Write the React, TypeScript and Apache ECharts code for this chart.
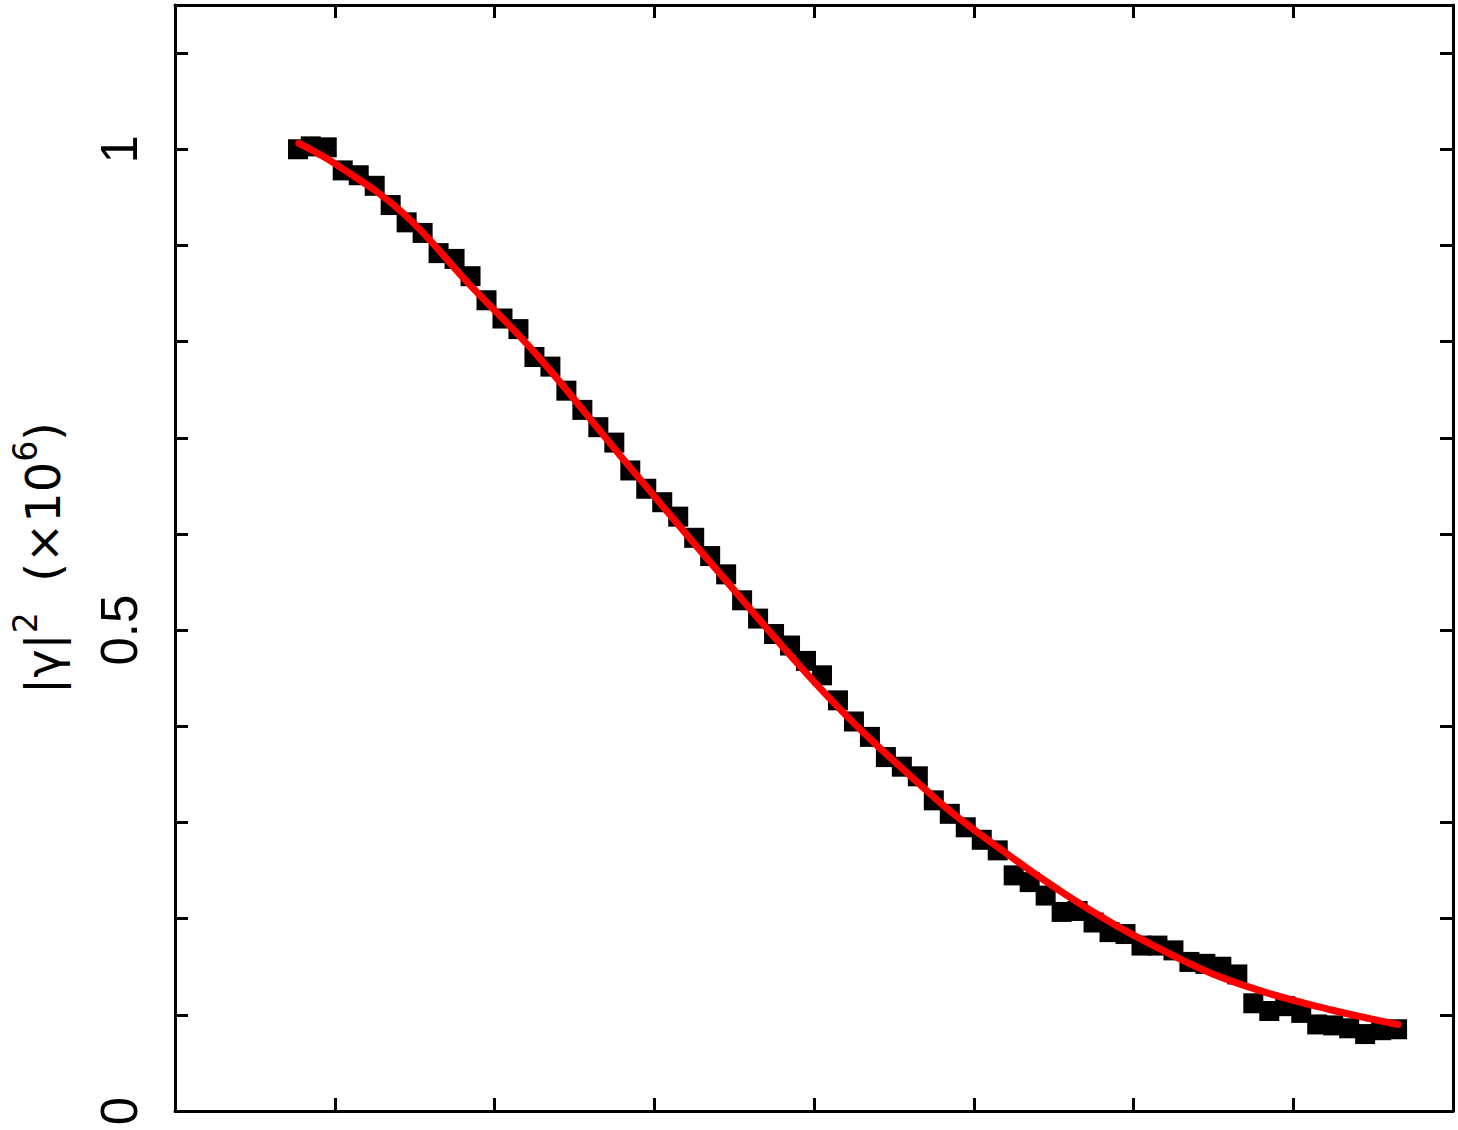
import React, { useEffect, useRef } from "react";
import * as echarts from "echarts";

// measured points (black squares)
const dataX = [
  0.77, 0.85, 0.95, 1.05, 1.15, 1.25, 1.35, 1.45, 1.55, 1.65,
  1.75, 1.85, 1.95, 2.05, 2.15, 2.25, 2.35, 2.45, 2.55, 2.65,
  2.75, 2.85, 2.95, 3.05, 3.15, 3.25, 3.35, 3.45, 3.55, 3.65,
  3.75, 3.85, 3.95, 4.05, 4.15, 4.25, 4.35, 4.45, 4.55, 4.65,
  4.75, 4.85, 4.95, 5.05, 5.15, 5.25, 5.35, 5.45, 5.55, 5.65,
  5.75, 5.85, 5.95, 6.05, 6.15, 6.25, 6.35, 6.45, 6.55, 6.65,
  6.75, 6.85, 6.95, 7.05, 7.15, 7.25, 7.35, 7.45, 7.55, 7.65,
];
const dataY = [
  1.0, 1.003, 1.002, 0.978, 0.973, 0.962, 0.942, 0.924, 0.913, 0.892,
  0.886, 0.868, 0.843, 0.824, 0.813, 0.784, 0.774, 0.749, 0.729, 0.711,
  0.695, 0.666, 0.647, 0.633, 0.618, 0.596, 0.577, 0.558, 0.531, 0.512,
  0.496, 0.484, 0.468, 0.453, 0.427, 0.405, 0.389, 0.368, 0.358, 0.348,
  0.323, 0.309, 0.295, 0.282, 0.271, 0.245, 0.238, 0.224, 0.207, 0.208,
  0.196, 0.186, 0.184, 0.172, 0.172, 0.167, 0.155, 0.153, 0.15, 0.142,
  0.112, 0.104, 0.109, 0.102, 0.09, 0.089, 0.086, 0.08, 0.084, 0.085,
];

// fitted curve (red)
const fitX = [0.775, 1.01, 1.425, 1.84, 2.26, 2.78, 3.41, 4.11, 4.74, 5.03, 5.66, 6.28, 6.72, 7.24, 7.656];
const fitY = [1.006, 0.984, 0.934, 0.86, 0.787, 0.683, 0.559, 0.427, 0.328, 0.289, 0.216, 0.159, 0.129, 0.105, 0.09];

const yLabels: Record<string, string> = { "0": "0", "0.5": "0.5", "1": "1" };

const FONT = "Liberation Sans";
const TFONT = "DejaVu Sans";

export default function App() {
  const ref = useRef<HTMLDivElement>(null);
  useEffect(() => {
    if (!ref.current) return;
    const chart = echarts.init(ref.current, null, { renderer: "svg" });
    const axisLine = { show: true, onZero: false, lineStyle: { color: "#000", width: 3 } };
    const tick = { show: true, inside: true, length: 13, lineStyle: { color: "#000", width: 3 } };
    const fmtY = (v: number) => {
      const key = String(Math.round(v * 1000) / 1000);
      return yLabels[key] ?? "";
    };
    chart.setOption({
      animation: false,
      backgroundColor: "#fff",
      grid: { left: 175, right: 5, top: 5, bottom: 19, containLabel: false, outerBoundsMode: "none" },
      xAxis: [
        {
          type: "value", min: 0, max: 8, interval: 1, position: "bottom",
          axisLine, axisTick: tick, axisLabel: { show: false }, splitLine: { show: false },
        },
        {
          type: "value", min: 0, max: 8, interval: 1, position: "top",
          axisLine, axisTick: tick, axisLabel: { show: false }, splitLine: { show: false },
        },
      ],
      yAxis: [
        {
          type: "value", min: 0, max: 1.15, interval: 0.1, position: "left",
          axisLine, axisTick: tick, splitLine: { show: false },
          axisLabel: {
            show: true, rotate: 90, margin: 30, formatter: fmtY,
            fontFamily: FONT, fontSize: 51, color: "#000",
          },
          name: "{m||γ|}{s|2}{m|  (×10}{s|6}{m|)}",
          nameLocation: "middle",
          nameRotate: 90,
          nameGap: 108,
          nameTextStyle: {
            fontFamily: TFONT, color: "#000",
            rich: {
              m: { fontFamily: TFONT, fontSize: 48, color: "#000", lineHeight: 58, verticalAlign: "bottom" },
              s: { fontFamily: TFONT, fontSize: 33, color: "#000", lineHeight: 58, verticalAlign: "top" },
            },
          },
        },
        {
          type: "value", min: 0, max: 1.15, interval: 0.1, position: "right",
          axisLine, axisTick: tick, axisLabel: { show: false }, splitLine: { show: false },
        },
      ],
      series: [
        {
          type: "scatter",
          symbol: "rect",
          symbolSize: 20,
          itemStyle: { color: "#000", opacity: 1 },
          data: dataX.map((x, i) => [x, dataY[i]]),
          z: 2,
        },
        {
          type: "line",
          showSymbol: false,
          smooth: 0.4,
          lineStyle: { color: "#ff0000", width: 7, cap: "round" },
          data: fitX.map((x, i) => [x, fitY[i]]),
          z: 3,
        },
      ],
    });
    return () => chart.dispose();
  }, []);
  return (
    <div
      ref={ref}
      style={{ position: "absolute", left: 0, top: 0, width: 1458, height: 1130 }}
    />
  );
}
